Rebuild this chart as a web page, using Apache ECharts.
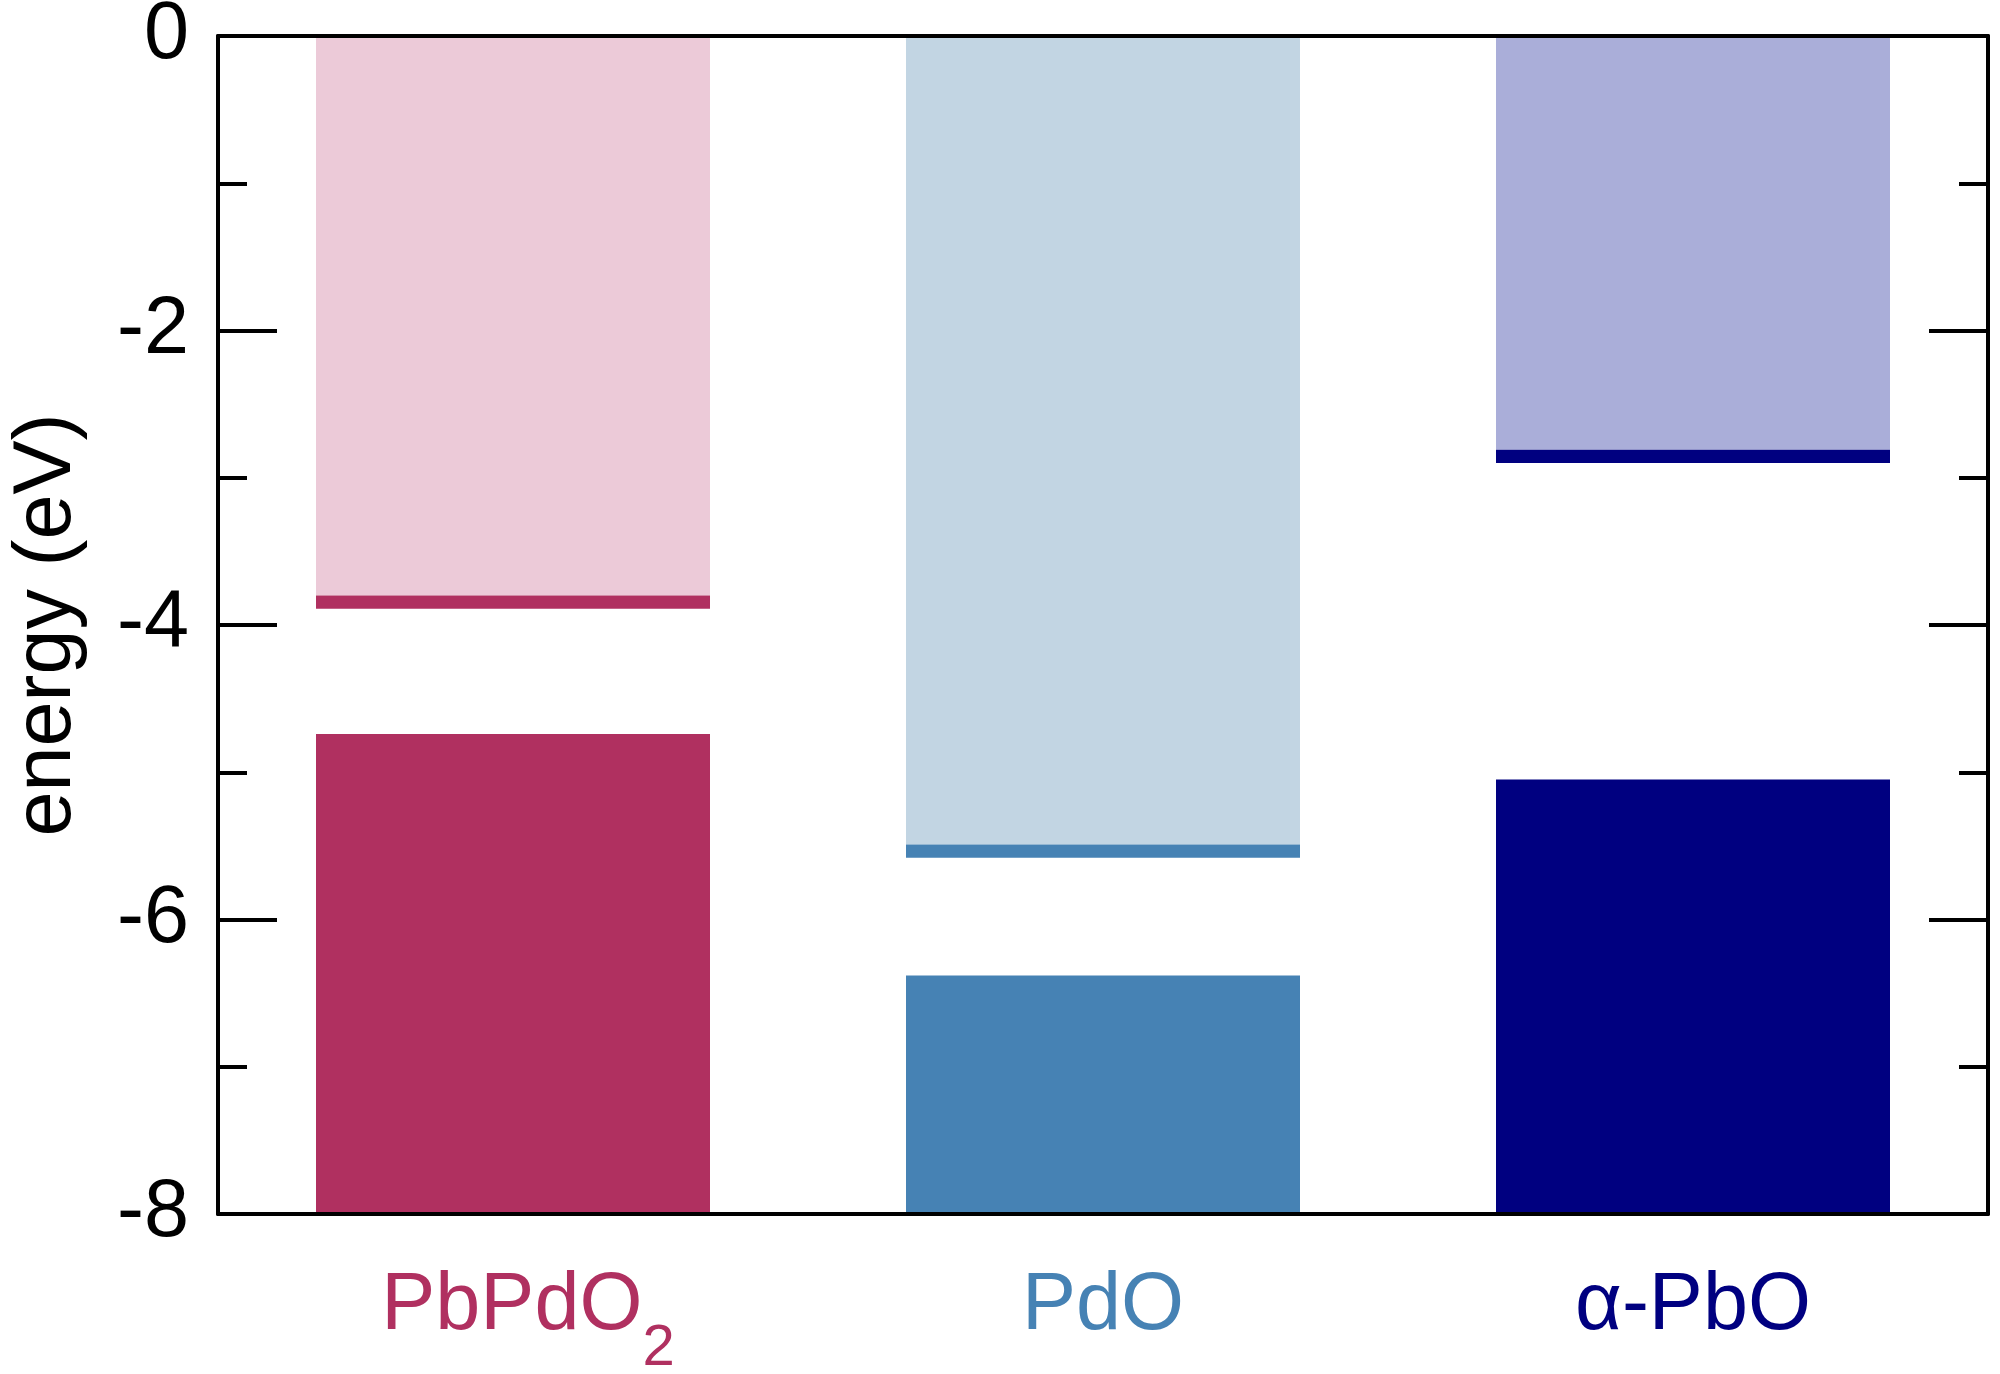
<!DOCTYPE html>
<html>
<head>
<meta charset="utf-8">
<script src="https://cdn.jsdelivr.net/npm/echarts@6/dist/echarts.min.js"></script>
<style>
html,body{margin:0;padding:0;background:#fff;}
#chart{width:2000px;height:1374px;}
</style>
</head>
<body>
<div id="chart"></div>
<script>
// ---- data ----
const categories = ['PbPdO2', 'PdO', 'α-PbO'];
const cbEdge = [-3.80, -5.49, -2.81];     // bottom of light conduction-band region
const cbmLineBottom = [-3.89, -5.58, -2.90]; // bottom of dark CBM strip
const vbm = [-4.74, -6.38, -5.05];        // valence band maximum
const yMin = -8;
const yMax = 0;
const yTickLabels = [0, -2, -4, -6, -8];

// ---- styles ----
const darkColors = ['#B03060', '#4682B4', '#000080'];
const lightColors = ['#ECCAD8', '#C2D5E3', '#AAAED9'];
const FONT = 'Liberation Sans, Arial, Helvetica, sans-serif';

const chart = echarts.init(document.getElementById('chart'), null, {renderer: 'canvas'});

function items(vals, colors) {
  return vals.map((v, i) => ({value: v, itemStyle: {color: colors ? colors[i] : 'rgba(0,0,0,0)'}}));
}
const lightVals = cbEdge.slice();
const stripVals = cbmLineBottom.map((v, i) => v - cbEdge[i]);
const gapVals = vbm.map((v, i) => v - cbmLineBottom[i]);
const vbVals = vbm.map(v => yMin - v);

const rich = {pd: {fontFamily: FONT, fontSize: 58, width: 30, lineHeight: 58, verticalAlign: 'top', color: 'rgba(0,0,0,0)'}};
categories.forEach((c, i) => {
  rich['c' + i] = {fontFamily: FONT, fontSize: 81, color: darkColors[i], lineHeight: 90, verticalAlign: 'top'};
  rich['s' + i] = {fontFamily: FONT, fontSize: 58, color: darkColors[i], lineHeight: 58, verticalAlign: 'top', padding: [54, 0, 0, 0]};
});

function labelFmt(value, i) {
  const hasSub = /\d/.test(value);
  return (hasSub ? '{pd| }' : '') + '{c' + i + '|' + value.replace(/(\d+)/g, '}{s' + i + '|$1}{c' + i + '|') + '}';
}

const axisLineStyle = {color: '#000', width: 4};
function yAxisDef(pos, showLabels) {
  return {
    type: 'value', position: pos, min: yMin, max: yMax, interval: 2, z: 10,
    axisLine: {show: true, onZero: false, lineStyle: axisLineStyle},
    axisTick: {show: true, inside: true, length: 59, lineStyle: {color: '#000', width: 4}},
    minorTick: {show: true, splitNumber: 2, length: 29, lineStyle: {color: '#000', width: 4}},
    splitLine: {show: false},
    minorSplitLine: {show: false},
    axisLabel: {
      show: showLabels, margin: 29, fontFamily: FONT, fontSize: 81, color: '#000',
      formatter: v => (yTickLabels.indexOf(v) >= 0 ? String(v) : '')
    },
    name: showLabels ? 'energy (eV)' : '',
    nameLocation: 'middle', nameRotate: 90, nameGap: 130,
    nameTextStyle: {fontFamily: FONT, fontSize: 81, color: '#000'}
  };
}

const option = {
  animation: false,
  backgroundColor: '#fff',
  grid: {left: 218, right: 12, top: 36, bottom: 160, containLabel: false, outerBoundsMode: 'none'},
  xAxis: [
    {
      type: 'category', data: categories, position: 'bottom', z: 10,
      axisLine: {show: true, onZero: false, lineStyle: axisLineStyle},
      axisTick: {show: false},
      axisLabel: {margin: 52, interval: 0, formatter: labelFmt, rich: rich}
    },
    {
      type: 'category', data: categories, position: 'top', z: 10,
      axisLine: {show: true, onZero: false, lineStyle: axisLineStyle},
      axisTick: {show: false}, axisLabel: {show: false}
    }
  ],
  yAxis: [yAxisDef('left', true), yAxisDef('right', false)],
  series: [
    {type: 'bar', stack: 'e', barWidth: 394, data: items(lightVals, lightColors), silent: true},
    {type: 'bar', stack: 'e', barWidth: 394, data: items(stripVals, darkColors), silent: true},
    {type: 'bar', stack: 'e', barWidth: 394, data: items(gapVals, null), silent: true},
    {type: 'bar', stack: 'e', barWidth: 394, data: items(vbVals, darkColors), silent: true}
  ]
};
chart.setOption(option);
</script>
</body>
</html>
